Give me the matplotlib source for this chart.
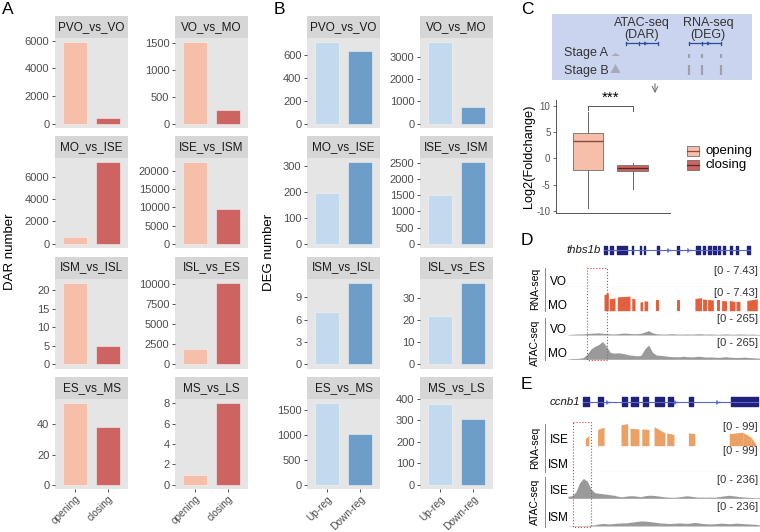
import matplotlib
matplotlib.use('Agg')
import matplotlib.pyplot as plt
from matplotlib.patches import Rectangle, Polygon
import numpy as np

plt.rcParams['font.family'] = ['Liberation Sans', 'DejaVu Sans']

# ---- data: panel A / B (bar facets) ----
comparisons = ['PVO_vs_VO', 'VO_vs_MO', 'MO_vs_ISE', 'ISE_vs_ISM',
               'ISM_vs_ISL', 'ISL_vs_ES', 'ES_vs_MS', 'MS_vs_LS']
dar_labels = ['opening', 'closing']
dar_opening = [5900, 1520, 650, 22300, 22, 1900, 54, 1]
dar_closing = [400, 250, 7300, 9400, 5, 10200, 38, 8]
dar_ticks = [[0, 2000, 4000, 6000], [0, 500, 1000, 1500], [0, 2000, 4000, 6000],
             [0, 5000, 10000, 15000, 20000], [0, 5, 10, 15, 20],
             [0, 2500, 5000, 7500, 10000], [0, 20, 40], [0, 2, 4, 6, 8]]
deg_labels = ['Up-reg', 'Down-reg']
deg_up = [710, 3650, 197, 1520, 7, 22, 1640, 378]
deg_down = [630, 760, 315, 2520, 11, 37, 1020, 308]
deg_ticks = [[0, 200, 400, 600], [0, 1000, 2000, 3000], [0, 100, 200, 300],
             [0, 500, 1000, 1500, 2000, 2500], [0, 3, 6, 9], [0, 10, 20, 30],
             [0, 500, 1000, 1500], [0, 100, 200, 300, 400]]

# ---- data: panel C boxplot ----
box_groups = ['opening', 'closing']
box_q1 = [-2.25, -2.4]
box_med = [3.3, -1.9]
box_q3 = [4.9, -1.3]
box_wlo = [-9.5, -5.8]
box_whi = [8.8, -0.8]

# ---- data: panel D (thbs1b) ----
thbs1b_span = (18.8, 94.8)
thbs1b_exons = [(18.8, 20.5), (21.9, 23.3), (25.3, 30.9), (33.2, 34.0), (37.5, 38.2),
                (39.6, 40.3), (46.2, 47.2), (56.6, 57.6), (66.7, 68.8), (70.1, 71.5),
                (73.1, 74.3), (75.7, 77.1), (78.3, 79.2), (80.9, 81.9), (84.4, 85.4),
                (87.5, 88.5), (93.4, 94.8)]
thbs1b_arrows = [52.3, 62.7]
rna_mo_blocks = [(18.75, 21.0, 6.2, 7.1), (21.5, 24.5, 4.6, 5.0), (25.7, 32.3, 5.4, 5.7),
                 (33.2, 34.9, 4.9, 4.6), (37.5, 38.9, 3.4, 3.6), (39.6, 41.5, 3.9, 3.7),
                 (45.8, 47.6, 4.1, 4.1), (56.6, 58.3, 4.0, 4.0), (66.1, 69.6, 4.8, 5.1),
                 (70.1, 72.2, 4.6, 4.4), (72.7, 75.7, 4.4, 4.2), (77.4, 79.2, 4.0, 4.0),
                 (80.0, 82.6, 4.0, 3.8), (84.0, 87.0, 4.0, 3.6), (87.5, 89.6, 3.7, 3.6),
                 (93.1, 98.6, 4.0, 4.6)]
atac_pos = list(range(0, 101, 2))
atac_vo = [5, 8, 10, 12, 12, 18, 20, 22, 25, 20, 18, 12, 12, 15, 20, 22, 18, 15, 15, 20,
           35, 50, 25, 15, 12, 10, 12, 15, 12, 10, 10, 12, 10, 12, 15, 12, 10, 12, 10, 8,
           10, 12, 10, 8, 10, 12, 10, 8, 10, 8, 6]
atac_mo = [5, 8, 10, 12, 20, 60, 120, 150, 170, 205, 150, 80, 70, 75, 70, 60, 50, 45, 40, 45,
           120, 165, 80, 50, 45, 40, 35, 30, 30, 28, 35, 30, 28, 30, 35, 30, 25, 28, 25, 22,
           25, 30, 25, 22, 20, 22, 25, 20, 18, 15, 12]

# ---- data: panel E (ccnb1) ----
ccnb1_span = (8.0, 99.1)
ccnb1_exons = [(8.0, 10.9), (15.8, 18.4), (28.3, 30.6), (32.8, 36.6), (38.9, 41.8),
               (45.3, 50.0), (51.9, 54.9), (63.2, 65.3), (84.7, 99.1)]
ccnb1_arrows = [20.5, 55.7, 77.4]
rna_ise_blocks = [(9.0, 10.9, 30, 45), (15.4, 18.8, 70, 80), (27.6, 31.1, 90, 95),
                  (32.3, 37.0, 75, 72), (38.4, 42.2, 72, 70), (44.8, 50.5, 82, 55),
                  (51.4, 55.2, 55, 48), (62.7, 66.1, 55, 52), (84.0, 91.0, 52, 58),
                  (91.0, 95.5, 58, 35), (95.5, 97.9, 35, 5)]
atac_ise = [20, 25, 60, 150, 195, 170, 90, 55, 50, 45, 40, 35, 30, 20, 15, 20, 25, 25, 20, 15,
            25, 30, 30, 25, 20, 15, 12, 10, 10, 15, 20, 25, 20, 15, 10, 12, 10, 12, 10, 15,
            20, 25, 30, 25, 20, 15, 12, 10, 8, 6, 5]
atac_ism = [3, 3, 4, 5, 5, 6, 8, 12, 20, 25, 22, 20, 25, 28, 30, 30, 35, 40, 45, 50,
            48, 45, 40, 35, 30, 28, 25, 25, 28, 30, 28, 25, 30, 35, 30, 25, 22, 20, 22, 25,
            28, 25, 22, 25, 28, 25, 22, 20, 18, 15, 10]

dar_colors = ['#F7BFA9', '#CD6461']
deg_colors = ['#C2D9EE', '#6D9DC9']
rna_d_color = '#E3603E'
rna_e_color = '#EBA066'
atac_color = '#9A9A9A'
navy = '#21217A'

W, H = 760, 532
fig = plt.figure(figsize=(7.6, 5.32), dpi=100)


def rect(x0, y0, x1, y1):
    # pixel box with top-left origin -> figure fraction
    return [x0 / W, 1 - y1 / H, (x1 - x0) / W, (y1 - y0) / H]


def facet(x0, y_top, title, vals, labels, colors, ticks, bottom_row):
    ax = fig.add_axes(rect(x0, y_top + 22, x0 + 73, y_top + 112))
    ax.set_facecolor('#E5E5E5')
    ax.bar([0, 1], vals, width=0.7, color=colors, edgecolor='#F4F4F4', linewidth=0.4)
    top = max(vals)
    ax.set_xlim(-0.6, 1.6)
    ax.set_ylim(-0.05 * top, 1.05 * top)
    ax.set_yticks(ticks)
    ax.set_yticklabels([str(t) for t in ticks])
    for s in ax.spines.values():
        s.set_visible(False)
    ax.tick_params(axis='y', length=2.5, width=0.6, color='#333333', labelcolor='#4D4D4D',
                   labelsize=8, pad=1.5)
    if bottom_row:
        ax.set_xticks([0, 1])
        ax.set_xticklabels(labels, rotation=45, ha='right', rotation_mode='anchor')
        ax.tick_params(axis='x', length=2.5, width=0.6, color='#333333',
                       labelcolor='#4D4D4D', labelsize=7.3, pad=1)
    else:
        ax.set_xticks([])
    st = fig.add_axes(rect(x0, y_top, x0 + 73, y_top + 22))
    st.set_facecolor('#D6D6D6')
    st.set_xticks([]); st.set_yticks([])
    for s in st.spines.values():
        s.set_visible(False)
    st.text(0.5, 0.5, title, ha='center', va='center', fontsize=8.5, color='#1A1A1A')


row_tops = [16, 136, 256.5, 377]
for i, name in enumerate(comparisons):
    r, c = divmod(i, 2)
    facet([55, 175][c], row_tops[r], name, [dar_opening[i], dar_closing[i]],
          dar_labels, dar_colors, dar_ticks[i], r == 3)
    facet([307, 420][c], row_tops[r], name, [deg_up[i], deg_down[i]],
          deg_labels, deg_colors, deg_ticks[i], r == 3)

# ---- panel C boxplot ----
bx = fig.add_axes(rect(556, 100, 670, 213))
stats = []
for i, g in enumerate(box_groups):
    stats.append(dict(label=g, q1=box_q1[i], med=box_med[i], q3=box_q3[i],
                      whislo=box_wlo[i], whishi=box_whi[i], fliers=[]))
parts = bx.bxp(stats, positions=[1, 2], widths=0.68, patch_artist=True, showcaps=False)
for p, col in zip(parts['boxes'], dar_colors):
    p.set_facecolor(col); p.set_edgecolor('#6E6E6E'); p.set_linewidth(0.6)
for m, col in zip(parts['medians'], ['#8A4A3E', '#5A2A26']):
    m.set_color(col); m.set_linewidth(1.0)
for w in parts['whiskers']:
    w.set_color('#666666'); w.set_linewidth(0.7)
bx.set_xlim(0.28, 2.84)
bx.set_ylim(-10.4, 11.15)
bx.set_xticks([])
bx.set_yticks([-10, -5, 0, 5, 10])
bx.set_yticklabels(['-10', '-5', '0', '5', '10'])
bx.tick_params(axis='y', length=2.5, width=0.6, color='#555555', labelcolor='#555555',
               labelsize=7, pad=1.5)
bx.spines['top'].set_visible(False)
bx.spines['right'].set_visible(False)
for s in ('left', 'bottom'):
    bx.spines[s].set_color('#555555'); bx.spines[s].set_linewidth(0.7)
bx.plot([1, 1, 2, 2], [9.2, 10.0, 10.0, 9.1], color='#555555', lw=0.7, clip_on=False)
bx.text(1.5, 10.3, '***', ha='center', va='bottom', fontsize=11, clip_on=False)
bx.set_ylabel('Log2(Foldchange)', fontsize=9.2, labelpad=1)


# ---- genome tracks ----
def gene_axis(y, span, exons, arrows, name, exon_h):
    ax = fig.add_axes(rect(568, y - 6, 760, y + 6))
    ax.set_xlim(0, 100); ax.set_ylim(-1, 1); ax.axis('off')
    ax.plot(span, [0, 0], color='#5567C8', lw=0.8)
    ax.broken_barh([(s, e - s) for s, e in exons], (-exon_h / 2, exon_h), color=navy)
    ax.plot(arrows, [0] * len(arrows), ls='none', marker='4', ms=4, color='#5567C8')
    ax.text(span[0] - 1.5, 0, name, ha='right', va='center', fontsize=8.2,
            style='italic', color='#1A1A1A')
    return ax


def track_axis(base_y, height, ymax):
    ax = fig.add_axes(rect(568, base_y - height, 760, base_y))
    ax.set_xlim(0, 100); ax.set_ylim(0, ymax); ax.axis('off')
    return ax


def draw_blocks(ax, blocks, color):
    for s, e, h0, h1 in blocks:
        ax.fill_between([s, e], [h0, h1], color=color, lw=0)


gene_axis(250, thbs1b_span, thbs1b_exons, thbs1b_arrows, 'thbs1b', 1.3)
t = track_axis(286.7, 19, 7.43)
t.plot([0, 100], [0, 0], color='#A8A8A8', lw=0.8)
t = track_axis(310.7, 19, 7.43)
draw_blocks(t, rna_mo_blocks, rna_d_color)
t = track_axis(335, 23, 265)
t.fill_between(atac_pos, atac_vo, color=atac_color, lw=0)
t = track_axis(359.3, 23, 265)
t.fill_between(atac_pos, atac_mo, color=atac_color, lw=0)

gene_axis(401.7, ccnb1_span, ccnb1_exons, ccnb1_arrows, 'ccnb1', 1.45)
t = track_axis(445.7, 23, 99)
t.plot([0, 100], [0, 0], color='#F6D2B4', lw=0.8)
draw_blocks(t, rna_ise_blocks, rna_e_color)
t = track_axis(471.7, 23, 99)
t.plot([0, 100], [0, 0], color='#F6D2B4', lw=0.8)
t = track_axis(498.3, 24, 236)
t.fill_between(atac_pos, atac_ise, color=atac_color, lw=0)
t = track_axis(526, 24, 236)
t.fill_between(atac_pos, atac_ism, color=atac_color, lw=0)

# ---- overlay in pixel coordinates for labels and schematic ----
ov = fig.add_axes([0, 0, 1, 1], facecolor='none')
ov.set_xlim(0, W); ov.set_ylim(H, 0); ov.axis('off')

for letter, x, y in [('A', 2, 2), ('B', 274, 2), ('C', 521, 2), ('D', 521, 233), ('E', 521, 377)]:
    ov.text(x, y, letter, fontsize=12.5, va='top', ha='left')
ov.text(10, 252, 'DAR number', rotation=90, ha='center', va='center', fontsize=9.5)
ov.text(269, 252, 'DEG number', rotation=90, ha='center', va='center', fontsize=9.5)

# schematic of panel C
ov.add_patch(Rectangle((552, 14), 200, 66, facecolor='#CAD4EF', edgecolor='none'))
ov.text(642, 29, 'ATAC-seq\n(DAR)', ha='center', va='center', fontsize=9,
        linespacing=0.95, color='#333333')
ov.text(708, 29, 'RNA-seq\n(DEG)', ha='center', va='center', fontsize=9,
        linespacing=0.95, color='#333333')
ov.text(564, 53, 'Stage A', ha='left', va='center', fontsize=9, color='#333333')
ov.text(564, 71, 'Stage B', ha='left', va='center', fontsize=9, color='#333333')
for xa, xb, xm, xar in [(625.7, 657.7, 639, 645), (689, 721, 702, 708)]:
    ov.plot([xa, xb], [43.3, 43.3], color='#2E4A9A', lw=0.9)
    ov.plot([xa, xa], [41.5, 45.1], color='#2E4A9A', lw=0.9)
    ov.plot([xm, xm], [41.5, 45.1], color='#2E4A9A', lw=0.9)
    ov.plot([xb, xb], [41.5, 45.1], color='#2E4A9A', lw=0.9)
    ov.plot([xar], [43.3], marker='4', ms=3, color='#2E4A9A')
ov.add_patch(Polygon([(611.5, 56), (615.5, 53), (620, 56)], closed=True,
                     facecolor='#A9A9B5', edgecolor='none'))
ov.add_patch(Polygon([(610.5, 73), (615.5, 64), (620.5, 73)], closed=True,
                     facecolor='#A9A9B5', edgecolor='none'))
for xr in (689, 702, 721):
    ov.plot([xr, xr], [53.5, 57.5], color='#A0A0A8', lw=1.6, solid_capstyle='butt')
    ov.plot([xr, xr], [65, 75], color='#A0A0A8', lw=1.6, solid_capstyle='butt')
ov.annotate('', xy=(655, 96), xytext=(655, 81),
            arrowprops=dict(arrowstyle='->', color='#777777', lw=0.8))

# legend of panel C
for col, med, y, lab in [(dar_colors[0], '#8A4A3E', 150.7, 'opening'),
                         (dar_colors[1], '#5A2A26', 165, 'closing')]:
    ov.add_patch(Rectangle((687, y - 5), 12, 10, facecolor=col, edgecolor='#6E6E6E', lw=0.6))
    ov.plot([687, 699], [y, y], color=med, lw=0.9)
    ov.text(705, y, lab, ha='left', va='center', fontsize=9.5)

# track labels
for txt, y in [('RNA-seq', 289), ('ATAC-seq', 343), ('RNA-seq', 447.5), ('ATAC-seq', 502)]:
    ov.text(535, y, txt, rotation=90, ha='center', va='center', fontsize=7.5)
ov.plot([545, 545], [268, 311], color='#888888', lw=0.7)
ov.plot([545, 545], [318, 360], color='#888888', lw=0.7)
ov.plot([545, 545], [424, 472], color='#888888', lw=0.7)
ov.plot([545, 545], [477, 527], color='#888888', lw=0.7)

for txt, y in [('VO', 282), ('MO', 306), ('VO', 330), ('MO', 354)]:
    ov.text(567, y, txt, ha='right', va='center', fontsize=8.5)
for txt, y in [('ISE', 440), ('ISM', 465.5), ('ISE', 491), ('ISM', 518)]:
    ov.text(569, y, txt, ha='right', va='center', fontsize=8.5)
for txt, y in [('[0 - 7.43]', 270.5), ('[0 - 7.43]', 293), ('[0 - 265]', 319.5), ('[0 - 265]', 343.5),
               ('[0 - 99]', 427), ('[0 - 99]', 451), ('[0 - 236]', 480), ('[0 - 236]', 507)]:
    ov.text(758, y, txt, ha='right', va='center', fontsize=8, color='#333333')

# highlighted regions
ov.add_patch(Rectangle((587, 268), 20, 92, fill=False, edgecolor='#E0403A', lw=0.8, ls=':'))
ov.add_patch(Rectangle((573, 422), 18, 105, fill=False, edgecolor='#E0403A', lw=0.8, ls=':'))

fig.savefig('out.png', dpi=100)
